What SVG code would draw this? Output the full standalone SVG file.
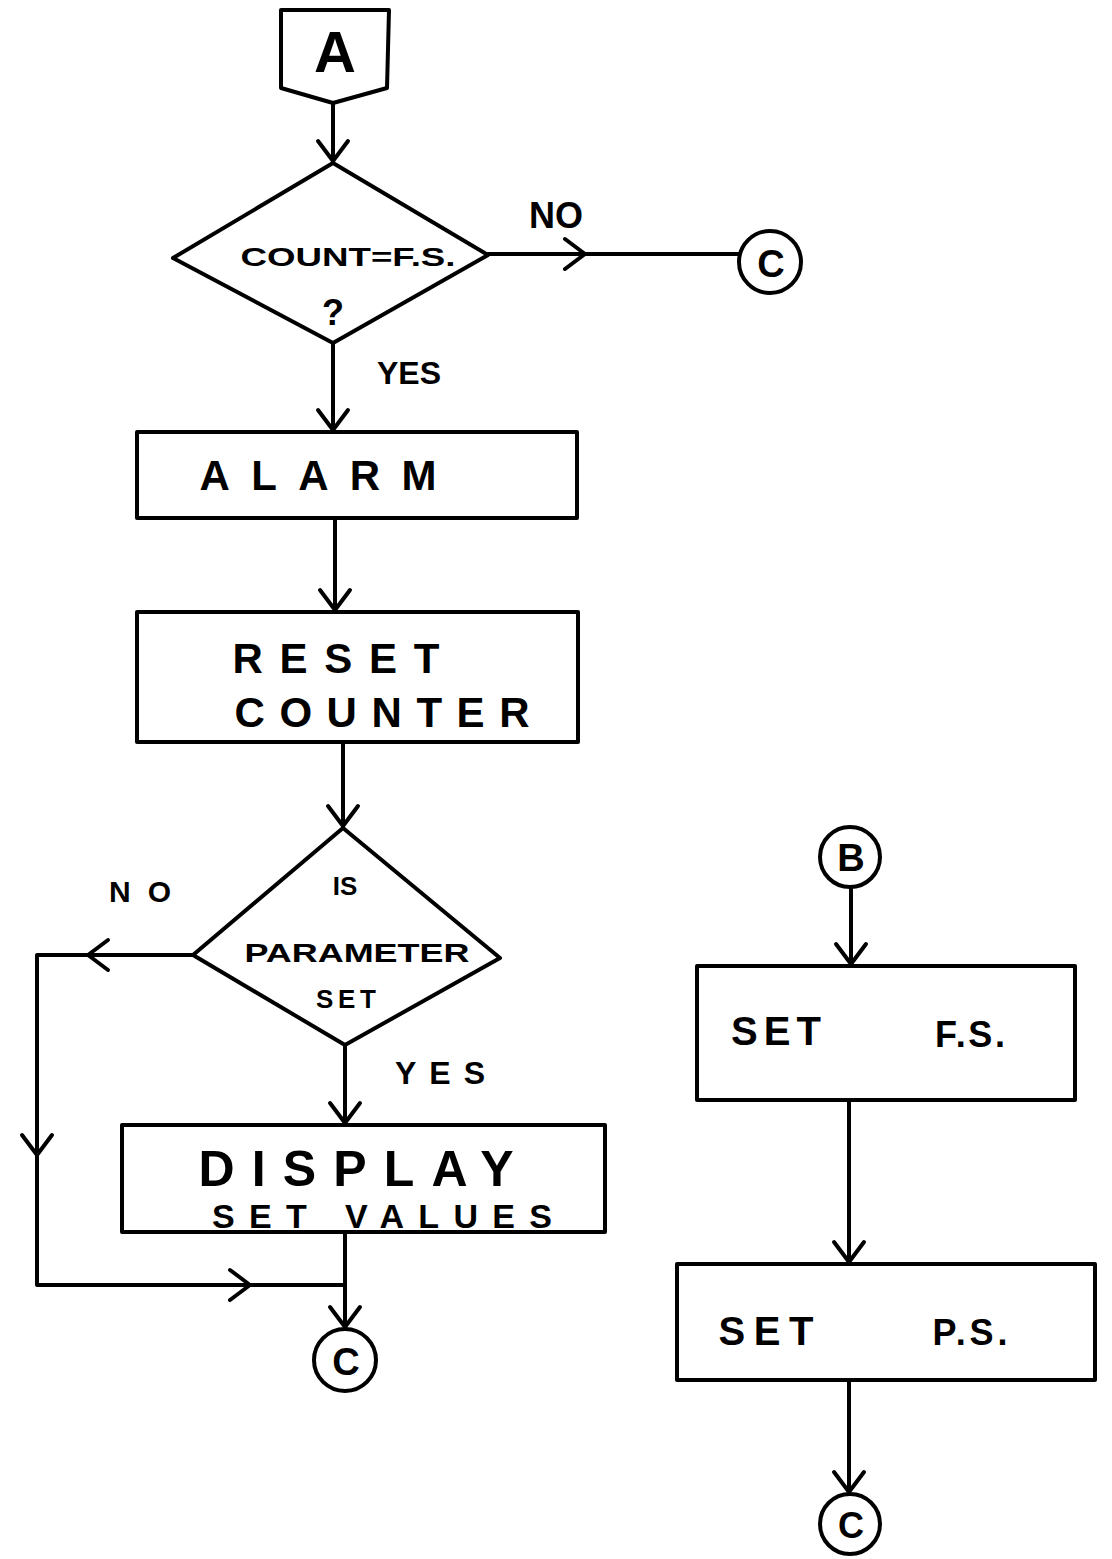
<svg xmlns="http://www.w3.org/2000/svg" width="1112" height="1559" viewBox="0 0 1112 1559">
<style>
.s{fill:none;stroke:#000;stroke-width:4;stroke-linejoin:round;stroke-linecap:round}
.t{font-family:"Liberation Sans",Arial,sans-serif;font-weight:bold;fill:#000;text-anchor:middle}
.c{fill:none;stroke:#000;stroke-width:4}
</style>
<defs>
<marker id="ah" viewBox="-24 -18 28 36" markerUnits="userSpaceOnUse" markerWidth="28" markerHeight="36" refX="0" refY="0" orient="auto">
<path d="M-20,-15 L0,0 L-20,15" fill="none" stroke="#000" stroke-width="4" stroke-linecap="round" stroke-linejoin="round"/>
</marker>
</defs>
<rect width="1112" height="1559" fill="#fff"/>

<g id="nodeA">
<path class="s" d="M281,10 L389,10 L387,88 L333,103 L281,88 Z"/>
<text class="t" x="335" y="72" font-size="58" font-weight="normal">A</text>
</g>

<g id="decision1">
<path class="s" d="M333,163 L488,255 L333,343 L173,258 Z"/>
<text class="t" x="348" y="266" font-size="25" textLength="215" lengthAdjust="spacingAndGlyphs">COUNT=F.S.</text>
<text class="t" x="333" y="325" font-size="36" font-weight="normal">?</text>
</g>

<g id="nodeC1">
<circle class="c" cx="770" cy="262" r="31"/>
<text class="t" x="771" y="277" font-size="38" font-weight="normal">C</text>
</g>

<g id="alarm">
<rect class="s" x="137" y="432" width="440" height="86"/>
<text class="t" x="318" y="490" font-size="42" font-weight="normal" textLength="237" lengthAdjust="spacing">ALARM</text>
</g>

<g id="reset">
<rect class="s" x="137" y="612" width="441" height="130"/>
<text class="t" x="336" y="673" font-size="42" font-weight="normal" textLength="207" lengthAdjust="spacing">RESET</text>
<text class="t" x="382" y="727" font-size="42" font-weight="normal" textLength="295" lengthAdjust="spacing">COUNTER</text>
</g>

<g id="decision2">
<path class="s" d="M343,828 L500,958 L345,1045 L193,955 Z"/>
<text class="t" x="345" y="895" font-size="26">IS</text>
<text class="t" x="357" y="962" font-size="26" textLength="225" lengthAdjust="spacingAndGlyphs">PARAMETER</text>
<text class="t" x="346" y="1008" font-size="26" textLength="60" lengthAdjust="spacing">SET</text>
</g>

<g id="display">
<rect class="s" x="122" y="1125" width="483" height="107"/>
<text class="t" x="356" y="1186" font-size="50" font-weight="normal" textLength="315" lengthAdjust="spacing">DISPLAY</text>
<text class="t" x="382" y="1228" font-size="34" textLength="340" lengthAdjust="spacing">SET VALUES</text>
</g>

<g id="nodeC2">
<circle class="c" cx="345" cy="1360" r="31"/>
<text class="t" x="346" y="1375" font-size="38" font-weight="normal">C</text>
</g>

<g id="nodeB">
<circle class="c" cx="850" cy="857" r="30"/>
<text class="t" x="851" y="871" font-size="38" font-weight="normal">B</text>
</g>

<g id="setFS">
<rect class="s" x="697" y="966" width="378" height="134"/>
<text class="t" x="776" y="1045" font-size="40" textLength="90" lengthAdjust="spacing">SET</text>
<text class="t" x="970" y="1047" font-size="36" font-weight="normal" textLength="70" lengthAdjust="spacing">F.S.</text>
</g>

<g id="setPS">
<rect class="s" x="677" y="1264" width="418" height="116"/>
<text class="t" x="766" y="1345" font-size="40" textLength="95" lengthAdjust="spacing">SET</text>
<text class="t" x="970" y="1345" font-size="36" font-weight="normal" textLength="75" lengthAdjust="spacing">P.S.</text>
</g>

<g id="nodeC3">
<circle class="c" cx="850" cy="1524" r="30"/>
<text class="t" x="851" y="1538" font-size="36" font-weight="normal">C</text>
</g>

<g id="labels">
<text class="t" x="556" y="228" font-size="36" font-weight="normal">NO</text>
<text class="t" x="409" y="384" font-size="32" font-weight="normal">YES</text>
<text class="t" x="140" y="902" font-size="30" font-weight="normal" textLength="62" lengthAdjust="spacing">NO</text>
<text class="t" x="440" y="1084" font-size="32" font-weight="normal" textLength="90" lengthAdjust="spacing">YES</text>
</g>

<g id="connectors">
<path class="s" d="M333,103 L333,161" marker-end="url(#ah)"/>
<path class="s" d="M488,254 L585,254" marker-end="url(#ah)"/>
<path class="s" d="M585,254 L739,254"/>
<path class="s" d="M333,343 L333,430" marker-end="url(#ah)"/>
<path class="s" d="M335,518 L335,610" marker-end="url(#ah)"/>
<path class="s" d="M343,742 L343,826" marker-end="url(#ah)"/>
<path class="s" d="M345,1045 L345,1123" marker-end="url(#ah)"/>
<path class="s" d="M193,955 L88,955" marker-end="url(#ah)"/>
<path class="s" d="M88,955 L37,955 L37,1155" marker-end="url(#ah)"/>
<path class="s" d="M37,1155 L37,1285 L250,1285" marker-end="url(#ah)"/>
<path class="s" d="M250,1285 L345,1285"/>
<path class="s" d="M345,1232 L345,1327" marker-end="url(#ah)"/>
<path class="s" d="M851,887 L851,964" marker-end="url(#ah)"/>
<path class="s" d="M849,1100 L849,1262" marker-end="url(#ah)"/>
<path class="s" d="M849,1380 L849,1492" marker-end="url(#ah)"/>
</g>
</svg>
